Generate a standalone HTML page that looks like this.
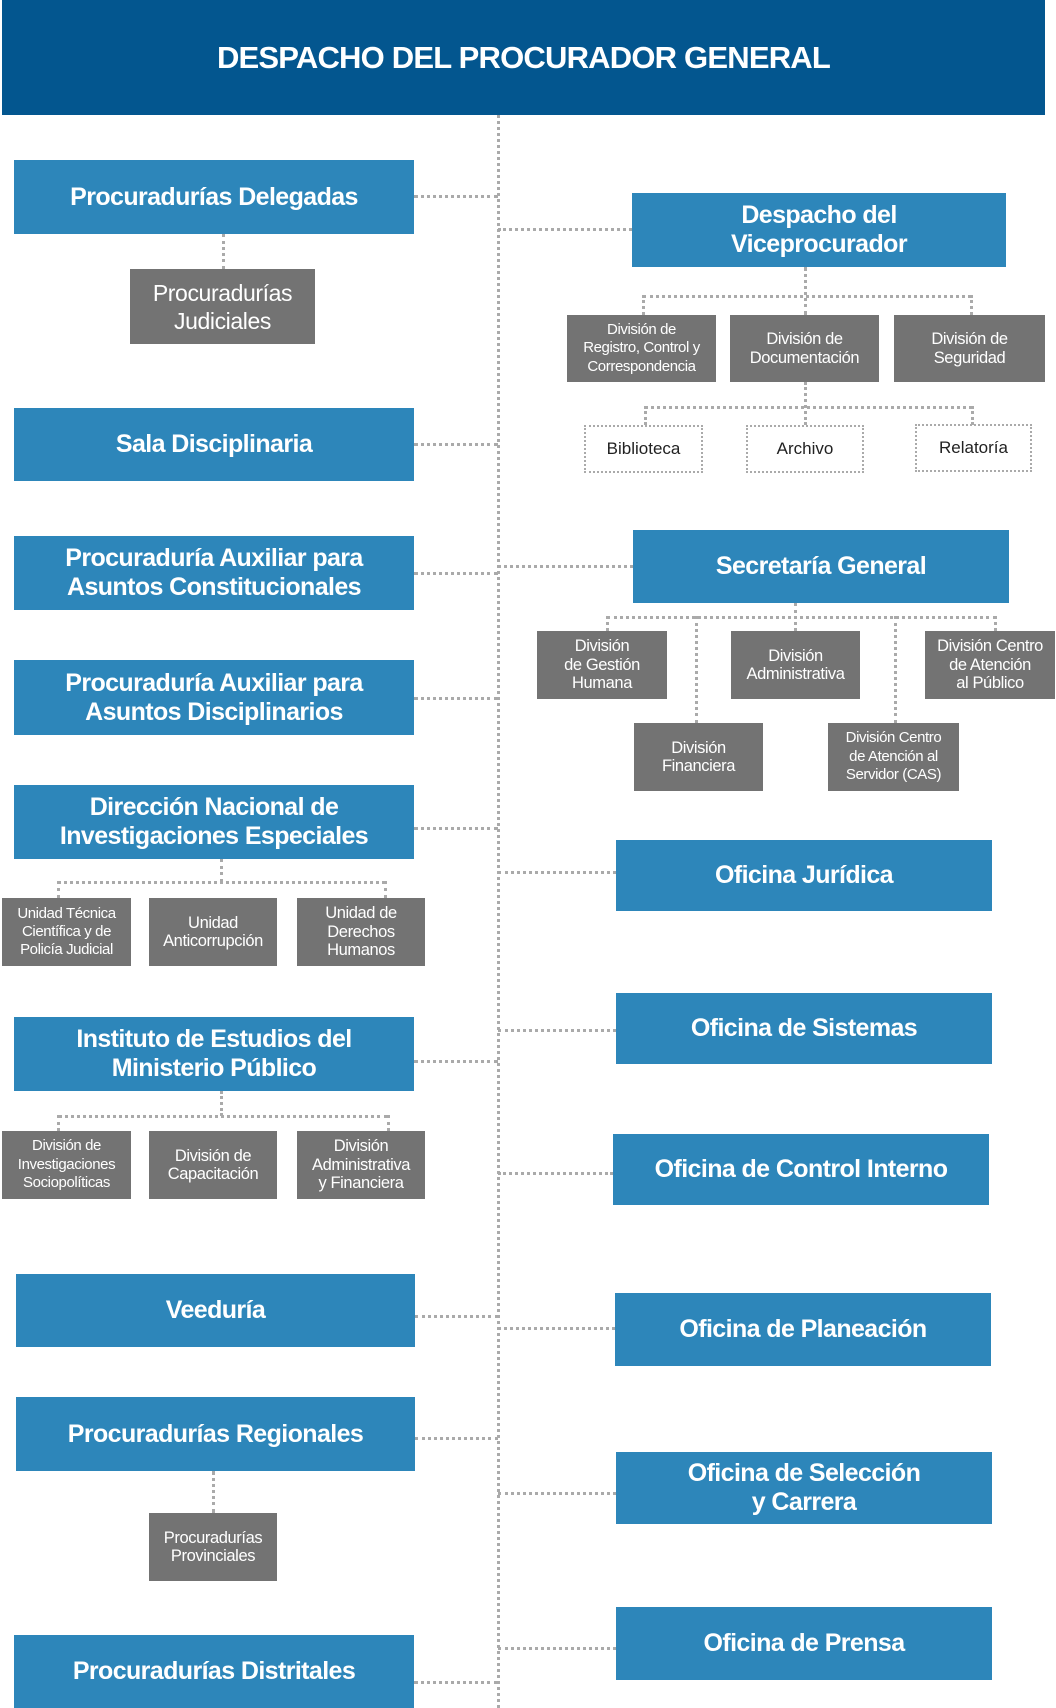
<!DOCTYPE html>
<html><head><meta charset="utf-8">
<style>
body{margin:0;width:1056px;height:1708px;position:relative;background:#fff;font-family:"Liberation Sans",sans-serif;overflow:hidden}
.b{position:absolute;background:#2d86ba;color:#fff;font-weight:bold;font-size:25px;line-height:29px;display:flex;align-items:center;justify-content:center;text-align:center;letter-spacing:-0.6px}
.g{position:absolute;background:#737373;color:#fff;font-size:16.5px;line-height:18.5px;display:flex;align-items:center;justify-content:center;text-align:center;letter-spacing:-0.4px}
.d{position:absolute;border:2px dotted #aaa;color:#222;font-size:17px;display:flex;align-items:center;justify-content:center;box-sizing:border-box}
.h{position:absolute;border-top:3px dotted #aaa;height:0}
.v{position:absolute;border-left:3px dotted #aaa;width:0}
</style></head><body>
<div class="b" style="left:2px;top:0;width:1043px;height:115px;background:#03568f;font-size:31px;letter-spacing:-0.8px">DESPACHO DEL PROCURADOR GENERAL</div>
<div class="v" style="left:497px;top:115px;height:1593px"></div>

<div class="h" style="left:414px;top:195px;width:84px"></div>
<div class="b" style="left:14px;top:160px;width:400px;height:74px">Procuradurías Delegadas</div>
<div class="v" style="left:222px;top:234px;height:35px"></div>
<div class="g" style="left:130px;top:269px;width:185px;height:75px;font-size:23px;line-height:28px">Procuradurías<br>Judiciales</div>

<div class="h" style="left:414px;top:443px;width:84px"></div>
<div class="b" style="left:14px;top:408px;width:400px;height:73px">Sala Disciplinaria</div>

<div class="h" style="left:414px;top:572px;width:84px"></div>
<div class="b" style="left:14px;top:536px;width:400px;height:74px">Procuraduría Auxiliar para<br>Asuntos Constitucionales</div>

<div class="h" style="left:414px;top:697px;width:84px"></div>
<div class="b" style="left:14px;top:660px;width:400px;height:75px">Procuraduría Auxiliar para<br>Asuntos Disciplinarios</div>

<div class="h" style="left:414px;top:827px;width:84px"></div>
<div class="b" style="left:14px;top:785px;width:400px;height:74px">Dirección Nacional de<br>Investigaciones Especiales</div>
<div class="v" style="left:220px;top:859px;height:23px"></div>
<div class="h" style="left:58px;top:881px;width:327px"></div>
<div class="v" style="left:57px;top:881px;height:17px"></div>
<div class="v" style="left:384px;top:881px;height:17px"></div>
<div class="g" style="left:2px;top:898px;width:129px;height:68px;font-size:15px;line-height:18px">Unidad Técnica<br>Científica y de<br>Policía Judicial</div>
<div class="g" style="left:149px;top:898px;width:128px;height:68px">Unidad<br>Anticorrupción</div>
<div class="g" style="left:297px;top:898px;width:128px;height:68px">Unidad de<br>Derechos<br>Humanos</div>

<div class="h" style="left:414px;top:1060px;width:84px"></div>
<div class="b" style="left:14px;top:1017px;width:400px;height:74px">Instituto de Estudios del<br>Ministerio Público</div>
<div class="v" style="left:220px;top:1091px;height:25px"></div>
<div class="h" style="left:58px;top:1115px;width:330px"></div>
<div class="v" style="left:57px;top:1115px;height:16px"></div>
<div class="v" style="left:387px;top:1115px;height:16px"></div>
<div class="g" style="left:2px;top:1131px;width:129px;height:68px;font-size:15px">División de<br>Investigaciones<br>Sociopolíticas</div>
<div class="g" style="left:149px;top:1131px;width:128px;height:68px">División de<br>Capacitación</div>
<div class="g" style="left:297px;top:1131px;width:128px;height:68px">División<br>Administrativa<br>y Financiera</div>

<div class="h" style="left:415px;top:1315px;width:83px"></div>
<div class="b" style="left:16px;top:1274px;width:399px;height:73px">Veeduría</div>

<div class="h" style="left:415px;top:1437px;width:83px"></div>
<div class="b" style="left:16px;top:1397px;width:399px;height:74px">Procuradurías Regionales</div>
<div class="v" style="left:212px;top:1471px;height:42px"></div>
<div class="g" style="left:149px;top:1513px;width:128px;height:68px">Procuradurías<br>Provinciales</div>

<div class="h" style="left:414px;top:1681px;width:84px"></div>
<div class="b" style="left:14px;top:1635px;width:400px;height:73px">Procuradurías Distritales</div>

<div class="h" style="left:498px;top:228px;width:134px"></div>
<div class="b" style="left:632px;top:193px;width:374px;height:74px">Despacho del<br>Viceprocurador</div>
<div class="v" style="left:804px;top:267px;height:48px"></div>
<div class="h" style="left:643px;top:295px;width:328px"></div>
<div class="v" style="left:642px;top:295px;height:20px"></div>
<div class="v" style="left:970px;top:295px;height:20px"></div>
<div class="g" style="left:567px;top:315px;width:149px;height:67px;font-size:15px">División de<br>Registro, Control y<br>Correspondencia</div>
<div class="g" style="left:730px;top:315px;width:149px;height:67px">División de<br>Documentación</div>
<div class="g" style="left:894px;top:315px;width:151px;height:67px">División de<br>Seguridad</div>
<div class="v" style="left:804px;top:382px;height:43px"></div>
<div class="h" style="left:645px;top:406px;width:327px"></div>
<div class="v" style="left:644px;top:406px;height:19px"></div>
<div class="v" style="left:971px;top:406px;height:19px"></div>
<div class="d" style="left:584px;top:425px;width:119px;height:48px">Biblioteca</div>
<div class="d" style="left:746px;top:425px;width:118px;height:48px">Archivo</div>
<div class="d" style="left:915px;top:424px;width:117px;height:48px">Relatoría</div>

<div class="h" style="left:498px;top:565px;width:135px"></div>
<div class="b" style="left:633px;top:530px;width:376px;height:73px">Secretaría General</div>
<div class="v" style="left:794px;top:603px;height:28px"></div>
<div class="h" style="left:607px;top:616px;width:389px"></div>
<div class="v" style="left:606px;top:616px;height:15px"></div>
<div class="v" style="left:994px;top:616px;height:15px"></div>
<div class="v" style="left:695px;top:616px;height:107px"></div>
<div class="v" style="left:894px;top:616px;height:107px"></div>
<div class="g" style="left:537px;top:631px;width:130px;height:68px">División<br>de Gestión<br>Humana</div>
<div class="g" style="left:731px;top:631px;width:129px;height:68px">División<br>Administrativa</div>
<div class="g" style="left:925px;top:631px;width:130px;height:68px">División Centro<br>de Atención<br>al Público</div>
<div class="g" style="left:634px;top:723px;width:129px;height:68px">División<br>Financiera</div>
<div class="g" style="left:828px;top:723px;width:131px;height:68px;font-size:15px">División Centro<br>de Atención al<br>Servidor (CAS)</div>

<div class="h" style="left:498px;top:871px;width:118px"></div>
<div class="b" style="left:616px;top:840px;width:376px;height:71px">Oficina Jurídica</div>
<div class="h" style="left:498px;top:1029px;width:118px"></div>
<div class="b" style="left:616px;top:993px;width:376px;height:71px">Oficina de Sistemas</div>
<div class="h" style="left:498px;top:1172px;width:115px"></div>
<div class="b" style="left:613px;top:1134px;width:376px;height:71px">Oficina de Control Interno</div>
<div class="h" style="left:498px;top:1327px;width:117px"></div>
<div class="b" style="left:615px;top:1293px;width:376px;height:73px">Oficina de Planeación</div>
<div class="h" style="left:498px;top:1492px;width:118px"></div>
<div class="b" style="left:616px;top:1452px;width:376px;height:72px">Oficina de Selección<br>y Carrera</div>
<div class="h" style="left:498px;top:1647px;width:118px"></div>
<div class="b" style="left:616px;top:1607px;width:376px;height:73px">Oficina de Prensa</div>
</body></html>
